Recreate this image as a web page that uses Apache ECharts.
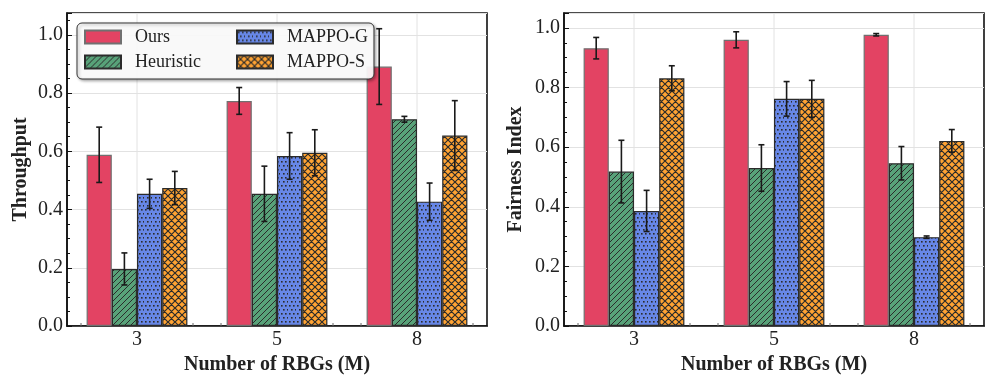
<!DOCTYPE html>
<html>
<head>
<meta charset="utf-8">
<script src="https://cdn.jsdelivr.net/npm/echarts@6/dist/echarts.min.js"></script>
<style>
  html, body { margin: 0; padding: 0; background: #fff; }
  #chart { width: 997px; height: 388px; }
</style>
</head>
<body>
<div id="chart"></div>
<script>
// categories / legend
const categories = ['3', '5', '8'];
const methods = ['Ours', 'Heuristic', 'MAPPO-G', 'MAPPO-S'];

// throughput (mean, std)
const thrOurs = [0.588, 0.773, 0.891];
const thrOursErr = [0.095, 0.046, 0.130];
const thrHeur = [0.196, 0.454, 0.710];
const thrHeurErr = [0.055, 0.095, 0.010];
const thrMappoG = [0.454, 0.584, 0.427];
const thrMappoGErr = [0.050, 0.080, 0.064];
const thrMappoS = [0.474, 0.595, 0.654];
const thrMappoSErr = [0.057, 0.079, 0.120];

// fairness index (mean, std)
const fairOurs = [0.932, 0.960, 0.977];
const fairOursErr = [0.036, 0.027, 0.004];
const fairHeur = [0.518, 0.530, 0.546];
const fairHeurErr = [0.105, 0.078, 0.056];
const fairMappoG = [0.386, 0.762, 0.298];
const fairMappoGErr = [0.069, 0.058, 0.004];
const fairMappoS = [0.831, 0.762, 0.621];
const fairMappoSErr = [0.042, 0.062, 0.038];

const serif = "'Liberation Serif', 'DejaVu Serif', serif";
const ink = '#1a1a1a';

// hatch tiles, roughly matplotlib's '//', '..', 'xx'
function tile(size, bg, draw) {
    const c = document.createElement('canvas');
    c.width = size;
    c.height = size;
    const ctx = c.getContext('2d');
    ctx.fillStyle = bg;
    ctx.fillRect(0, 0, size, size);
    ctx.strokeStyle = '#2b2b2b';
    ctx.fillStyle = '#2b2b2b';
    draw(ctx, size);
    return {image: c, repeat: 'repeat'};
}

const fills = [
    '#e34363',
    tile(6, '#58a279', function (ctx, s) {
        ctx.lineWidth = 1;
        ctx.beginPath();
        [-s, 0, s].forEach(function (o) {
            ctx.moveTo(o, s);
            ctx.lineTo(o + s, 0);
        });
        ctx.stroke();
    }),
    tile(8, '#6787e7', function (ctx) {
        [[1, 1], [5, 1], [3, 5], [7, 5]].forEach(function (p) {
            ctx.fillRect(p[0], p[1], 1.6, 1.6);
        });
    }),
    tile(7, '#ffa333', function (ctx, s) {
        ctx.lineWidth = 1.2;
        ctx.beginPath();
        [-s, 0, s].forEach(function (o) {
            ctx.moveTo(o, s);
            ctx.lineTo(o + s, 0);
            ctx.moveTo(o, 0);
            ctx.lineTo(o + s, s);
        });
        ctx.stroke();
    })
];
const edges = ['#707070', '#2b2b2b', '#2b2b2b', '#2b2b2b'];

function barSeries(k, values, idx) {
    return {
        name: methods[k],
        type: 'bar',
        xAxisIndex: idx,
        yAxisIndex: idx,
        data: values,
        barWidth: '18%',
        barGap: '0%',
        z: 3,
        itemStyle: {color: fills[k], borderColor: edges[k], borderWidth: 1.2}
    };
}

function errSeries(k, values, errs, idx) {
    return {
        type: 'custom',
        xAxisIndex: idx,
        yAxisIndex: idx,
        z: 5,
        silent: true,
        data: values.map(function (v, i) { return [i, v, errs[i]]; }),
        renderItem: function (params, api) {
            const bw = api.size([1, 0])[0] * 0.18;
            const cx = api.coord([api.value(0), 0])[0] + (k - 1.5) * bw;
            const yTop = api.coord([api.value(0), api.value(1) + api.value(2)])[1];
            const yBot = api.coord([api.value(0), api.value(1) - api.value(2)])[1];
            const st = {stroke: ink, lineWidth: 1.6};
            return {
                type: 'group',
                children: [
                    {type: 'line', shape: {x1: cx, y1: yTop, x2: cx, y2: yBot}, style: st},
                    {type: 'line', shape: {x1: cx - 3, y1: yTop, x2: cx + 3, y2: yTop}, style: st},
                    {type: 'line', shape: {x1: cx - 3, y1: yBot, x2: cx + 3, y2: yBot}, style: st}
                ]
            };
        }
    };
}

// vertical grid lines at category centres + small ticks at bar-group edges
function guideSeries(idx) {
    return {
        type: 'custom',
        xAxisIndex: idx,
        yAxisIndex: idx,
        z: 1,
        silent: true,
        data: categories.map(function (c, i) { return [i, 0]; }),
        renderItem: function (params, api) {
            const cs = params.coordSys;
            const band = api.size([1, 0])[0];
            const x = api.coord([api.value(0), 0])[0];
            const bottom = cs.y + cs.height;
            const tk = {stroke: '#666', lineWidth: 1};
            return {
                type: 'group',
                children: [
                    {type: 'line', shape: {x1: x, y1: cs.y, x2: x, y2: bottom}, style: {stroke: '#e2e2e2', lineWidth: 1}},
                    {type: 'line', shape: {x1: x - 0.4 * band, y1: bottom, x2: x - 0.4 * band, y2: bottom - 3}, style: tk},
                    {type: 'line', shape: {x1: x + 0.4 * band, y1: bottom, x2: x + 0.4 * band, y2: bottom - 3}, style: tk}
                ]
            };
        }
    };
}

function xAxisCfg(idx) {
    return {
        type: 'category',
        gridIndex: idx,
        data: categories,
        name: 'Number of RBGs (M)',
        nameLocation: 'middle',
        nameGap: 29,
        nameTextStyle: {fontFamily: serif, fontWeight: 'bold', fontSize: 20, color: '#222'},
        axisLine: {lineStyle: {color: '#111', width: 1.5}},
        axisTick: {show: false},
        axisLabel: {fontFamily: serif, fontSize: 20, color: '#222', margin: 4},
        splitLine: {show: false}
    };
}

function yAxisCfg(idx, name, max, gap) {
    return {
        type: 'value',
        gridIndex: idx,
        min: 0,
        max: max,
        interval: 0.2,
        name: name,
        nameLocation: 'middle',
        nameGap: gap,
        nameTextStyle: {fontFamily: serif, fontWeight: 'bold', fontSize: 20, color: '#222'},
        axisLine: {show: true, lineStyle: {color: '#111', width: 1.5}},
        axisTick: {show: true, inside: true, length: 5, lineStyle: {color: '#111'}},
        minorTick: {show: true, splitNumber: 4, length: 3, lineStyle: {color: '#111'}},
        axisLabel: {
            fontFamily: serif, fontSize: 20, color: '#222', margin: 4, showMaxLabel: false,
            formatter: function (v) { return v > 1.01 ? '' : v.toFixed(1); }
        },
        splitLine: {show: true, lineStyle: {color: '#e2e2e2', width: 1}}
    };
}

const legendBase = {
    orient: 'vertical',
    top: 23,
    icon: 'rect',
    itemWidth: 36,
    itemHeight: 13,
    itemGap: 7,
    selectedMode: false,
    textStyle: {fontFamily: serif, fontSize: 18, color: '#222', padding: [0, 0, 0, 9]}
};

const chart = echarts.init(document.getElementById('chart'), null, {renderer: 'canvas'});
chart.setOption({
    animation: false,
    backgroundColor: '#fff',
    grid: [
        {left: 67, top: 13, width: 420, height: 313, show: true, borderColor: '#111', borderWidth: 1.6},
        {left: 564, top: 13, width: 420, height: 313, show: true, borderColor: '#111', borderWidth: 1.6}
    ],
    legend: [
        Object.assign({}, legendBase, {
            data: ['Ours', 'Heuristic'],
            left: 77,
            padding: [5, 173, 8, 7],
            backgroundColor: 'rgba(255,255,255,0.92)',
            borderColor: '#333',
            borderWidth: 1,
            borderRadius: 5,
            shadowColor: 'rgba(0,0,0,0.35)',
            shadowBlur: 3,
            shadowOffsetX: 1.5,
            shadowOffsetY: 1.5
        }),
        Object.assign({}, legendBase, {
            data: ['MAPPO-G', 'MAPPO-S'],
            left: 236,
            padding: [5, 4, 8, 0]
        })
    ],
    xAxis: [xAxisCfg(0), xAxisCfg(1)],
    yAxis: [yAxisCfg(0, 'Throughput', 1.075, 36), yAxisCfg(1, 'Fairness Index', 1.05, 38)],
    series: [
        guideSeries(0),
        barSeries(0, thrOurs, 0),
        barSeries(1, thrHeur, 0),
        barSeries(2, thrMappoG, 0),
        barSeries(3, thrMappoS, 0),
        errSeries(0, thrOurs, thrOursErr, 0),
        errSeries(1, thrHeur, thrHeurErr, 0),
        errSeries(2, thrMappoG, thrMappoGErr, 0),
        errSeries(3, thrMappoS, thrMappoSErr, 0),
        guideSeries(1),
        barSeries(0, fairOurs, 1),
        barSeries(1, fairHeur, 1),
        barSeries(2, fairMappoG, 1),
        barSeries(3, fairMappoS, 1),
        errSeries(0, fairOurs, fairOursErr, 1),
        errSeries(1, fairHeur, fairHeurErr, 1),
        errSeries(2, fairMappoG, fairMappoGErr, 1),
        errSeries(3, fairMappoS, fairMappoSErr, 1)
    ]
});
</script>
</body>
</html>
